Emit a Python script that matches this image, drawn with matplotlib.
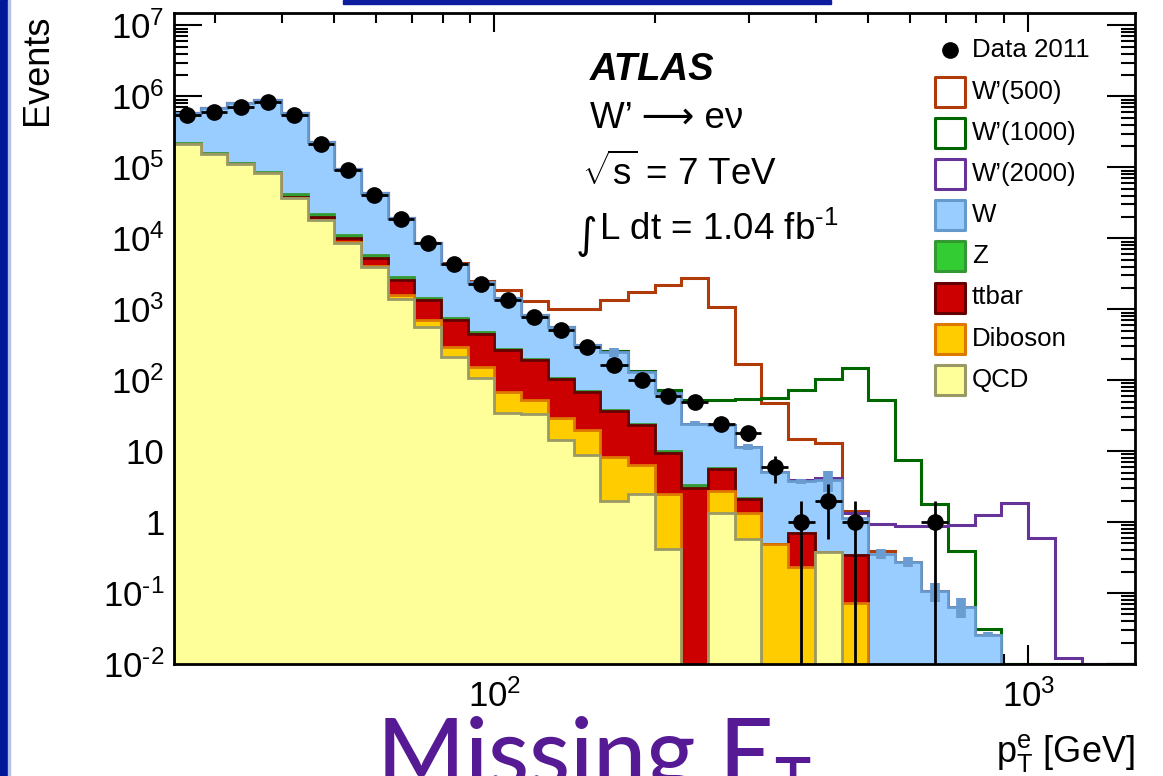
import matplotlib
matplotlib.use("Agg")
import matplotlib.pyplot as plt
from matplotlib.patches import Rectangle
from matplotlib.lines import Line2D
import numpy as np

plt.rcParams["font.family"] = ["Liberation Sans", "DejaVu Sans"]
plt.rcParams["mathtext.fontset"] = "custom"
plt.rcParams["mathtext.rm"] = "Liberation Sans"
plt.rcParams["mathtext.it"] = "Liberation Sans:italic"
plt.rcParams["mathtext.bf"] = "Liberation Sans:bold"
plt.rcParams["mathtext.default"] = "regular"

# electron pT bins [GeV], 0.05 decades wide
edges = [25.1, 28.2, 31.6, 35.5, 39.8, 44.7, 50.1, 56.2, 63.1, 70.8, 79.4,
         89.1, 100, 112, 126, 141, 158, 178, 200, 224, 251, 282, 316, 355,
         398, 447, 501, 562, 631, 708, 794, 891, 1000, 1122, 1259, 1413, 1585]

data = [540000, 600000, 720000, 830000, 540000, 215000, 93000, 41000, 19000,
        8600, 4400, 2300, 1370, 780, 518, 295, 166, 102, 60, 50, 24, 18, 6,
        1, 2, 1, 0, 0, 1, 0, 0, 0, 0, 0, 0, 0]

# background samples (stacked bottom to top: QCD, Diboson, ttbar, Z, W)
qcd = [215000, 156000, 110000, 82000, 37000, 18000, 8600, 3900, 1410, 563,
       213, 106, 34, 33, 14.3, 8.8, 2.0, 2.5, 0.42, 0, 1.33, 0.57, 0, 0,
       0.38, 0, 0, 0, 0, 0, 0, 0, 0, 0, 0, 0]
diboson = [50, 80, 120, 150, 180, 200, 200, 180, 160, 137, 80, 48, 34, 19,
           14.7, 11, 6.3, 3.8, 2.1, 0, 1.43, 0.78, 0.485, 0.234, 0, 0.072,
           0, 0, 0, 0, 0, 0, 0, 0, 0, 0]
ttbar = [200, 400, 700, 1000, 1300, 1500, 1400, 1200, 1000, 640, 423, 300,
         196, 140, 76, 48, 28, 17, 7, 3.0, 2.9, 0.75, 0, 0.46, 0, 0.27,
         0, 0, 0, 0, 0, 0, 0, 0, 0, 0]
zjets = [2000, 2500, 3000, 3500, 3000, 2200, 1000, 500, 250, 90, 40, 20, 10,
         6, 3, 2, 1.5, 1, 0.6, 0.3, 0.2, 0.1, 0, 0, 0, 0, 0, 0, 0, 0, 0, 0,
         0, 0, 0, 0]
wjets = [363000, 521000, 686000, 803000, 539000, 205000, 85000, 37200, 16800,
         7070, 3640, 1930, 1190, 624, 455, 245, 212, 107, 55, 21.2, 17.3, 9.3,
         4.6, 3.1, 3.6, 0.79, 0.36, 0.275, 0.107, 0.064, 0.026, 0, 0, 0, 0, 0]
w_mc_err = [0, 0, 0, 0, 0, 0, 0, 0, 0, 0, 0, 0, 0, 0, 0, 0, 35, 0, 0, 2, 0,
            1, 0, 0.3, 1.3, 0, 0.055, 0.045, 0.032, 0.02, 0.002, 0, 0, 0, 0, 0]

# W' signals, drawn on top of the summed background
wp500 = [0, 0, 0, 0, 0, 0, 0, 0, 0, 20, 40, 120, 390, 490, 457, 705, 1090,
         1620, 2115, 2775, 1057, 160, 43, 11, 9, 0.32, 0.03, 0, 0, 0, 0, 0,
         0, 0, 0, 0]
wp1000 = [0, 0, 0, 0, 0, 0, 0, 0, 0, 0, 0, 0, 1, 2, 2, 3, 5, 5, 8, 28, 29,
          43, 51, 68, 99, 149, 53, 7.2, 1.72, 0.33, 0.005, 0, 0, 0, 0, 0]
wp2000 = [0, 0, 0, 0, 0, 0, 0, 0, 0, 0, 0, 0, 0, 0, 0, 0, 0, 0, 0, 0, 0.01,
          0.02, 0.05, 0.15, 0.2, 0.2, 0.57, 0.6, 0.78, 0.84, 1.22, 1.83, 0.6,
          0.0123, 0, 0]

HY = "\u2010"  # plain hyphen for exponents, as in the original ROOT labels
y_ticks = [1e-2, 1e-1, 1, 10, 1e2, 1e3, 1e4, 1e5, 1e6, 1e7]
y_labels = ["$10^{%s2}$" % HY, "$10^{%s1}$" % HY, "1", "10", "$10^{2}$",
            "$10^{3}$", "$10^{4}$", "$10^{5}$", "$10^{6}$", "$10^{7}$"]
x_ticks = [100, 1000]
x_labels = ["$10^{2}$", "$10^{3}$"]
x_minor = [30, 40, 50, 60, 70, 80, 90, 200, 300, 400, 500, 600, 700, 800, 900]

W, H = 1163, 776


def fx(px):
    return px / W


def fy(py):
    return 1 - py / H


fig = plt.figure(figsize=(W / 100, H / 100), dpi=100)
ax = fig.add_axes([fx(174), fy(664), 961 / W, 651 / H])
ax.set_xscale("log")
ax.set_yscale("log")

edges = np.array(edges, float)
centers = np.sqrt(edges[:-1] * edges[1:])

# stacked backgrounds, drawn top layer first so lower layers sit over it
stack = np.cumsum(np.array([qcd, diboson, ttbar, zjets, wjets], float), axis=0)
fills = ["#ffff99", "#ffcc00", "#cc0000", "#33cc33", "#99ccff"]
outlines = ["#999966", "#dd7700", "#660000", "#339933", "#6699cc"]
for i in reversed(range(len(stack))):
    ax.stairs(np.clip(stack[i], 1e-4, None), edges, baseline=1e-4, fill=True,
              facecolor=fills[i], edgecolor=outlines[i], linewidth=2,
              zorder=2)
total = stack[-1]

werr = np.array(w_mc_err)
sel = werr > 0
ax.errorbar(centers[sel], total[sel], yerr=werr[sel], fmt="none",
            ecolor="#6a9bd1", elinewidth=7, capsize=0, zorder=3)

sig_colors = ["#b03a08", "#006600", "#663399"]
for sig, col in zip([wp500, wp1000, wp2000], sig_colors):
    ax.stairs(np.clip(total + np.array(sig), 1.01e-2, None), edges,
              baseline=None, color=col, linewidth=2.2, zorder=1)

# data with Poisson errors
data = np.array(data, float)
m = data > 0
err = np.sqrt(data)
lo = np.minimum(err, data - 1e-3)
ax.errorbar(centers[m], data[m], yerr=[lo[m], err[m]],
            xerr=[centers[m] - edges[:-1][m], edges[1:][m] - centers[m]],
            fmt="o", color="black", ms=11, elinewidth=2, capsize=0, zorder=4)

ax.set_xlim(edges[0], edges[-1])
ax.set_ylim(1e-2, 1.5e7)
ax.set_yticks(y_ticks, y_labels)
ax.set_xticks(x_ticks, x_labels)
ax.set_xticks(x_minor, minor=True)
ax.set_xticklabels([], minor=True)
ax.set_yticks([d * k for d in y_ticks[:-1] for k in range(2, 10)], minor=True)
ax.set_yticklabels([], minor=True)
ax.tick_params(which="both", direction="in", top=True, right=True,
               width=1.5, labelsize=25)
ax.tick_params(axis="y", which="major", length=20.5, pad=7)
ax.tick_params(axis="y", which="minor", length=10)
ax.tick_params(axis="x", which="major", length=13.5, pad=11)
ax.tick_params(axis="x", which="minor", length=7)
for s in ax.spines.values():
    s.set_linewidth(2)
    s.set_zorder(5)

fig.text(fx(38), fy(15), "Events", rotation=90, ha="center", va="top",
         fontsize=26)
fig.text(fx(1135), fy(762), "p$_{T}^{e}$ [GeV]", ha="right", va="baseline",
         fontsize=26)

# labels in the upper middle
fig.text(fx(590), fy(80), "ATLAS", fontsize=27.5, fontweight="bold",
         fontstyle="italic", va="baseline")
fig.text(fx(590), fy(128), "W’ \u27f6 eν", fontsize=26.5, va="baseline")
fig.text(fx(582), fy(185), r"$\sqrt{s}$ = 7 TeV", fontsize=26.5,
         va="baseline")
fig.text(fx(576), fy(248), "\u222b", fontsize=30, family="DejaVu Sans",
         va="baseline")
fig.text(fx(599), fy(240), "L dt = 1.04 fb$^{%s1}$" % HY, fontsize=26.5,
         va="baseline")

# legend
leg_labels = ["W’(500)", "W’(1000)", "W’(2000)", "W", "Z", "ttbar",
              "Diboson", "QCD"]
leg_face = ["white", "white", "white", "#99ccff", "#33cc33", "#cc0000",
            "#ffcc00", "#ffff99"]
leg_edge = sig_colors + ["#6699cc", "#339933", "#660000", "#dd7700",
                         "#999966"]
fig.add_artist(Line2D([fx(950)], [fy(50)], marker="o", ms=11,
                      color="black", transform=fig.transFigure))
fig.text(fx(972), fy(50), "Data 2011", fontsize=18.6, va="center")
for i, (lab, fc, ec) in enumerate(zip(leg_labels, leg_face, leg_edge)):
    yc = 91.5 + 41.2 * i
    fig.add_artist(Rectangle((fx(934.5), fy(yc + 15)), 30 / W, 30 / H,
                             facecolor=fc, edgecolor=ec, linewidth=2.2,
                             joinstyle="round", transform=fig.transFigure))
    fig.text(fx(972), fy(yc), lab, fontsize=18.6, va="center")

# slide frame
fig.add_artist(Rectangle((0, 0), 8 / W, 1, color="#00179a",
                         transform=fig.transFigure))
fig.add_artist(Rectangle((8 / W, 0), 2 / W, 1, color="#b5c0ea",
                         transform=fig.transFigure))
fig.add_artist(Rectangle((fx(343), fy(4)), (831 - 343) / W, 4 / H,
                         color="#0d1d9e", transform=fig.transFigure))

title = fig.text(fx(377), fy(786), "Missing E", fontsize=68, color="#561a94",
                 family="Lato", fontweight="medium", va="baseline")
fig.canvas.draw()
bb = title.get_window_extent()
fig.text(bb.x1 / W, fy(802), "T", fontsize=44, color="#561a94",
         family="Lato", fontweight="medium", va="baseline")

fig.savefig("out.png", dpi=100)
